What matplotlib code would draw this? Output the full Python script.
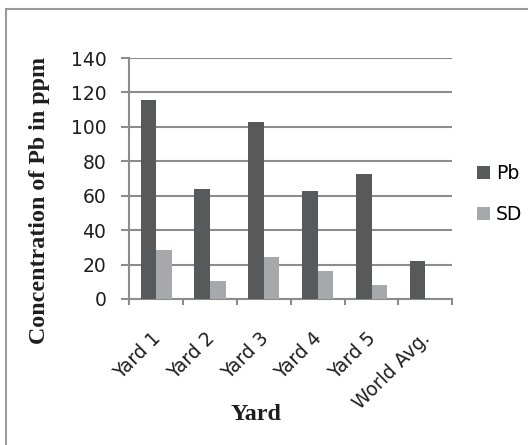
import matplotlib
matplotlib.use("Agg")
import matplotlib.pyplot as plt
from matplotlib.patches import Rectangle
from matplotlib.transforms import ScaledTranslation
import numpy as np

categories = ["Yard 1", "Yard 2", "Yard 3", "Yard 4", "Yard 5", "World Avg."]
pb_values = [115.5, 64, 103, 62.5, 72.5, 22]
sd_values = [28.6, 10.4, 24.6, 16.3, 7.9, 0]
y_ticks = [0, 20, 40, 60, 80, 100, 120, 140]

PB_COLOR = "#58595b"
SD_COLOR = "#a7a8ab"
GRID_COLOR = "#8c8c8c"
TEXT_COLOR = "#1e1e1e"
SANS = ["DejaVu Sans"]
SERIF = ["Liberation Serif", "DejaVu Serif"]
TICK_SIZE = 13.5
TITLE_SIZE = 17.3

W, H = 528, 445
fig = plt.figure(figsize=(W / 100, H / 100), dpi=100)
fig.patch.set_facecolor("white")

# outer chart frame (runs off the right and bottom edges)
fig.patches.append(Rectangle((6 / W, -0.05), 1.2, 1 - 9 / H + 0.05,
                             transform=fig.transFigure, fill=False,
                             edgecolor="#9a9a9a", linewidth=1.5))

ax = fig.add_axes([129.3 / W, 1 - 299 / H, 323 / W, 241 / H])
x = np.arange(len(categories))
bw = 0.29
ax.bar(x - bw / 2, pb_values, bw, color=PB_COLOR, label="Pb", zorder=3)
ax.bar(x + bw / 2, sd_values, bw, color=SD_COLOR, label="SD", zorder=3)

ax.set_xlim(-0.5, len(categories) - 0.5)
ax.set_ylim(0, 140)
ax.set_yticks(y_ticks)
ax.set_yticklabels([str(v) for v in y_ticks], fontfamily=SANS,
                   fontsize=TICK_SIZE, color=TEXT_COLOR)
ax.yaxis.grid(True, color=GRID_COLOR, linewidth=1.5, zorder=0)
ax.set_axisbelow(True)

for s in ["top", "right"]:
    ax.spines[s].set_visible(False)
for s in ["left", "bottom"]:
    ax.spines[s].set_color(GRID_COLOR)
    ax.spines[s].set_linewidth(1.5)

ax.tick_params(axis="y", length=5.5, width=1.5, color=GRID_COLOR, pad=11)

# tick marks at the category boundaries, labels at the category centres
ax.set_xticks(np.arange(-0.5, len(categories)))
ax.set_xticklabels([])
ax.tick_params(axis="x", which="major", length=4.5, width=1.5,
               color=GRID_COLOR)
ax.set_xticks(x, minor=True)
labels = ax.set_xticklabels(categories, minor=True, rotation=45, ha="right",
                            va="top", rotation_mode="anchor",
                            fontfamily=SANS, fontsize=TICK_SIZE,
                            color=TEXT_COLOR)
ax.tick_params(axis="x", which="minor", length=0, pad=21.6)
shift = ScaledTranslation(-5 / 100, 0, fig.dpi_scale_trans)
for lab in labels:
    lab.set_transform(lab.get_transform() + shift)

fig.text(45 / W, 1 - 200 / H, "Concentration of Pb in ppm",
         fontfamily=SERIF, fontweight="bold", fontsize=TITLE_SIZE,
         rotation=90, rotation_mode="anchor", ha="center", va="baseline",
         color=TEXT_COLOR)
fig.text(256 / W, 1 - 420 / H, "Yard", fontfamily=SERIF, fontweight="bold",
         fontsize=TITLE_SIZE, ha="center", va="baseline", color=TEXT_COLOR)

fig.legend(loc="center left", bbox_to_anchor=(477.3 / W, 1 - 194 / H),
           frameon=False, prop={"family": SANS, "size": TICK_SIZE},
           handlelength=0.69, handleheight=0.69, handletextpad=0.32,
           labelspacing=1.18, borderpad=0, borderaxespad=0)

fig.savefig("out.png", dpi=100)
